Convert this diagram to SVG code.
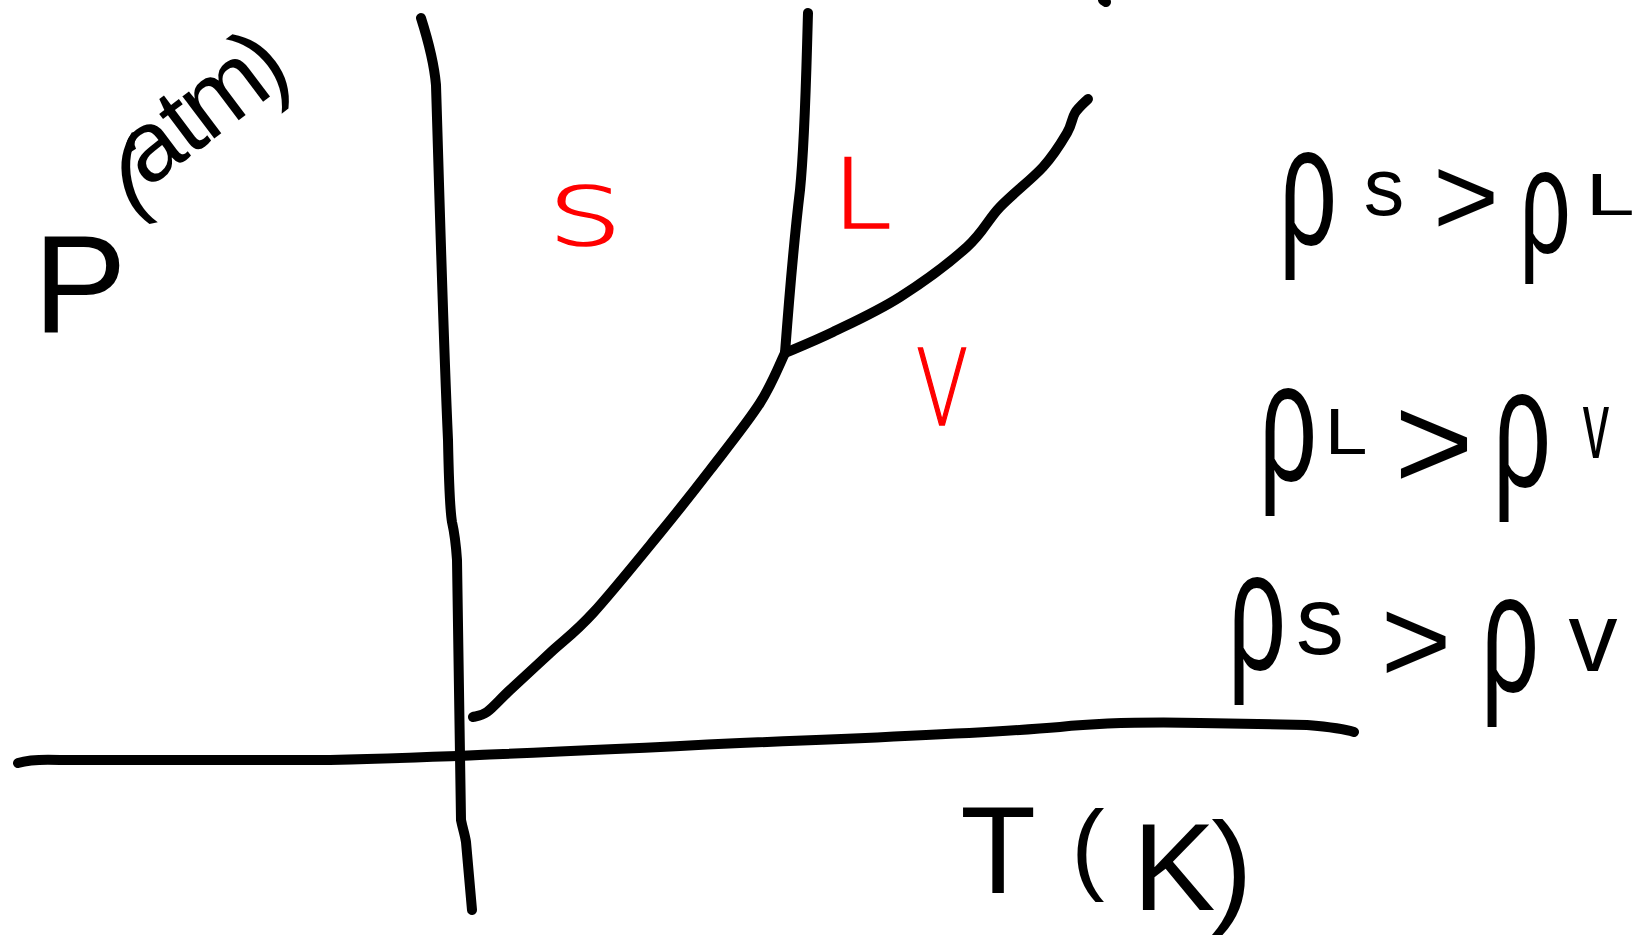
<svg xmlns="http://www.w3.org/2000/svg" width="1648" height="943" viewBox="0 0 1648 943">
<style>
.ln{fill:none;stroke:#000;stroke-width:10;stroke-linecap:round;stroke-linejoin:round}
.bk{font-family:"Liberation Sans",Arial,sans-serif;fill:#000;text-anchor:middle}
.rd{font-family:"DejaVu Sans","Liberation Sans",sans-serif;font-weight:200;fill:#ff0000;stroke:#ff0000;stroke-width:1.6;text-anchor:middle}
</style>
<rect width="1648" height="943" fill="#fff"/>
<g id="axes">
<path class="ln" d="M421,18 C428,40 434,62 436,85 C439,180 443,330 448,440 C449,490 450,510 452,522 C455,535 456,545 457,560 C459,640 460,720 461,820 C463,830 465,835 466,842 L472,910"/>
<path class="ln" d="M18,763 C28,760 38,759 60,760 L330,760 C460,757 600,750 740,743 C900,737 1000,732 1060,727 C1100,723 1150,722 1200,723 L1307,725 C1330,727 1345,729 1354,732"/>
</g>
<g id="curves">
<path class="ln" d="M808,13 C806,80 805,140 800,190 C794,240 789,300 785,353"/>
<path class="ln" d="M785,353 C793,349.5 813.8,341.3 833,332 C852.2,322.7 877.7,311.2 900,297 C922.3,282.8 950.3,262 967,247 C983.7,232 987.3,220.3 1000,207 C1012.7,193.7 1031.8,179.3 1043,167 C1054.2,154.7 1061.7,142 1067,133 C1072.3,124 1071.5,118.7 1075,113 C1078.5,107.3 1085.8,101.3 1088,99"/>
<path class="ln" d="M785,353 C780.8,361.3 772.5,383.5 760,403 C747.5,422.5 726.7,448.3 710,470 C693.3,491.7 679.5,509.2 660,533 C640.5,556.8 611.3,593 593,613 C574.7,633 563.8,640.2 550,653 C536.2,665.8 520.5,680.2 510,690 C499.5,699.8 493.2,707.5 487,712 C480.8,716.5 475.3,716.2 473,717"/>
<path class="ln" d="M1103,0 L1106,2"/>
</g>
<g id="phase-labels">
<text class="rd" transform="translate(585,245) scale(1.45,1)" font-size="80">S</text>
<text class="rd" transform="translate(862,228) scale(1.1,1)" font-size="97">L</text>
<text class="rd" transform="translate(942,425) scale(0.72,1)" font-size="106">V</text>
</g>
<g id="y-label">
<text class="bk" x="80" y="332" font-size="140">P</text>
<text class="bk" transform="translate(193,122) rotate(-37)" x="0" y="26" font-size="100" rotate="26 0 0 0 0" dx="0 -2 -2 -4 -8">(atm)</text>
</g>
<g id="x-label">
<text class="bk"><tspan x="998" y="893" font-size="124">T</tspan><tspan x="1088" y="881" font-size="100">(</tspan><tspan x="1174" y="910" font-size="124">K</tspan><tspan x="1232" y="909" font-size="124">)</tspan></text>
</g>
<g id="density-row1">
<text class="bk" transform="translate(1308,245) scale(0.6,1)" font-size="170">ρ</text>
<text class="bk" x="1384" y="215" font-size="81">s</text>
<text class="bk" x="1466" y="235" font-size="113">&gt;</text>
<text class="bk" transform="translate(1545,253) scale(0.6,1)" font-size="150">ρ</text>
<text class="bk" transform="translate(1610,215) scale(1.5,1)" font-size="59">L</text>
</g>
<g id="density-row2">
<text class="bk" transform="translate(1288,481) scale(0.6,1)" font-size="170">ρ</text>
<text class="bk" transform="translate(1346,454) scale(1.2,1)" font-size="64">L</text>
<text class="bk" x="1434" y="489" font-size="136">&gt;</text>
<text class="bk" transform="translate(1522,487) scale(0.6,1)" font-size="170">ρ</text>
<text class="bk" transform="translate(1596,458) scale(0.55,1)" font-size="96">v</text>
</g>
<g id="density-row3">
<text class="bk" transform="translate(1257,670) scale(0.6,1)" font-size="170">ρ</text>
<text class="bk" x="1320" y="654" font-size="96">s</text>
<text class="bk" x="1416" y="682" font-size="121">&gt;</text>
<text class="bk" transform="translate(1510,692) scale(0.6,1)" font-size="170">ρ</text>
<text class="bk" x="1593" y="671" font-size="98">v</text>
</g>
</svg>
